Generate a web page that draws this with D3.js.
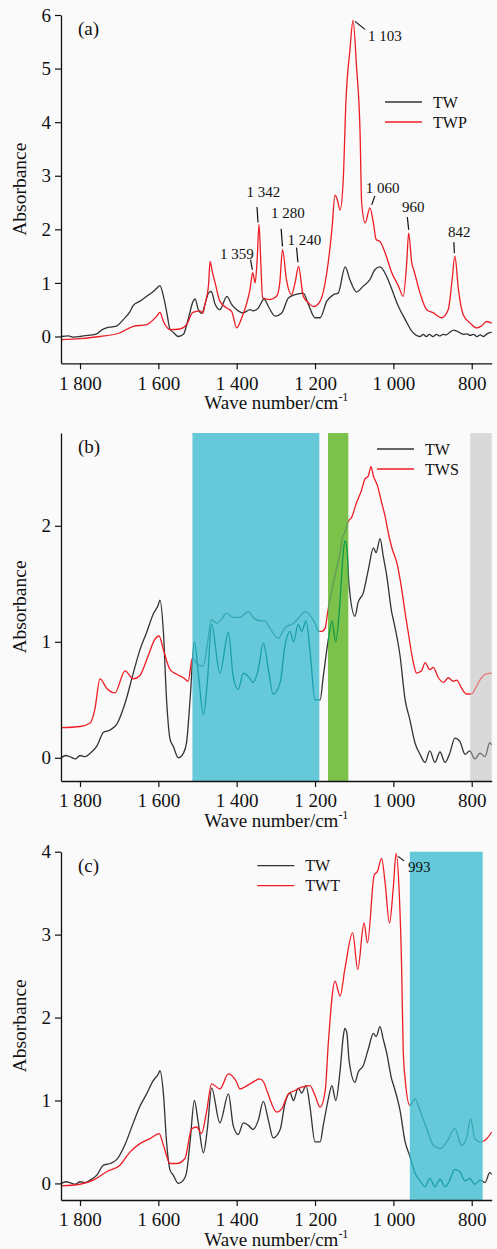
<!DOCTYPE html>
<html>
<head>
<meta charset="utf-8">
<script src="https://cdn.jsdelivr.net/npm/d3@7/dist/d3.min.js"></script>
<style>
body { margin: 0; background: #fafafa; }
</style>
</head>
<body>
<div id="chart"></div>
<script>
var svgWidth = 497;
var svgHeight = 1249;
var fontFamily = "'Liberation Serif'";

// wave number ticks
var xTicks = [1800, 1600, 1400, 1200, 1000, 800];

// (a) TW and TWP spectra : [wave number, absorbance]
var twA = [[1848,0.0],[1830,0.01],[1815,-0.01],[1800,0.0],[1780,0.02],[1757,0.05],[1745,0.12],[1732,0.16],[1718,0.18],[1706,0.2],
  [1689,0.32],[1672,0.47],[1664,0.58],[1647,0.66],[1630,0.75],[1613,0.84],[1604,0.9],[1596,0.95],[1587,0.75],[1579,0.47],
  [1570,0.13],[1562,0.08],[1549,0.0],[1536,0.04],[1524,0.32],[1511,0.66],[1506,0.7],[1498,0.5],[1489,0.43],[1481,0.6],
  [1472,0.81],[1465,0.84],[1455,0.6],[1443,0.5],[1425,0.75],[1413,0.6],[1400,0.5],[1383,0.44],[1366,0.5],[1358,0.48],
  [1345,0.53],[1330,0.7],[1319,0.56],[1302,0.38],[1285,0.44],[1268,0.72],[1251,0.78],[1230,0.81],[1217,0.6],[1200,0.35],
  [1187,0.35],[1170,0.66],[1153,0.78],[1141,0.81],[1123,1.3],[1111,1.06],[1094,0.83],[1077,0.94],[1060,1.06],[1047,1.25],
  [1034,1.3],[1017,1.12],[1004,0.88],[987,0.56],[970,0.32],[953,0.1],[932,0.0],[924,0.04],[916,0.0],[908,0.04],
  [899,0.0],[890,0.04],[882,0.01],[873,0.04],[865,0.03],[856,0.08],[846,0.12],[838,0.1],[830,0.07],[821,0.04],
  [812,0.05],[804,0.02],[795,0.04],[787,0.0],[778,0.03],[770,0.0],[761,0.05],[749,0.08]];
var twpA = [[1848,-0.06],[1800,-0.04],[1749,0.0],[1698,0.07],[1664,0.19],[1630,0.22],[1621,0.26],[1604,0.38],[1596,0.45],[1587,0.28],
  [1570,0.13],[1545,0.14],[1528,0.22],[1512,0.45],[1494,0.48],[1486,0.44],[1481,0.6],[1472,0.95],[1468,1.4],[1462,1.2],
  [1455,1.0],[1443,0.66],[1425,0.53],[1413,0.47],[1400,0.16],[1387,0.35],[1374,0.63],[1366,0.88],[1359,1.19],[1353,1.0],
  [1348,1.4],[1343,2.09],[1338,1.3],[1334,0.72],[1315,0.69],[1298,0.75],[1290,1.0],[1283,1.62],[1273,1.06],[1260,0.78],
  [1251,1.0],[1242,1.31],[1230,0.75],[1217,0.63],[1203,0.56],[1187,0.66],[1170,1.19],[1157,1.99],[1149,2.64],[1143,2.55],
  [1136,2.36],[1128,2.92],[1121,4.41],[1111,5.34],[1103,5.9],[1094,5.03],[1085,3.8],[1081,2.5],[1072,2.12],[1060,2.4],
  [1051,2.12],[1044,1.81],[1034,1.77],[1021,1.56],[1004,1.19],[987,0.94],[975,0.75],[966,1.37],[961,1.93],[953,1.37],
  [947,1.22],[932,0.81],[915,0.5],[898,0.44],[877,0.35],[860,0.5],[850,1.06],[843,1.5],[834,0.88],[822,0.41],
  [804,0.25],[787,0.16],[775,0.2],[762,0.28],[749,0.25]];

// (b) and (c) share the TW spectrum
var twBC = [[1848,0.0],[1836,0.02],[1826,0.01],[1812,-0.01],[1800,0.02],[1787,0.01],[1774,0.04],[1757,0.1],[1740,0.22],[1723,0.24],
  [1706,0.29],[1685,0.47],[1664,0.73],[1647,0.93],[1630,1.08],[1613,1.24],[1600,1.32],[1596,1.36],[1587,1.08],[1579,0.5],
  [1570,0.16],[1562,0.1],[1549,0.0],[1536,0.04],[1528,0.13],[1519,0.5],[1508,1.0],[1498,0.73],[1485,0.37],[1475,0.65],
  [1464,1.15],[1443,0.73],[1421,1.08],[1409,0.7],[1396,0.59],[1383,0.73],[1370,0.7],[1358,0.65],[1345,0.76],[1332,0.99],
  [1319,0.76],[1307,0.55],[1289,0.65],[1277,0.96],[1264,1.09],[1255,1.0],[1243,1.15],[1234,1.09],[1223,1.18],[1213,0.93],
  [1200,0.5],[1187,0.5],[1179,0.7],[1166,1.02],[1157,1.18],[1147,1.0],[1136,1.36],[1128,1.77],[1124,1.87],[1119,1.82],
  [1113,1.48],[1098,1.22],[1090,1.34],[1077,1.42],[1064,1.62],[1051,1.81],[1044,1.77],[1034,1.89],[1026,1.74],[1017,1.57],
  [1004,1.25],[1000,1.19],[983,0.88],[970,0.5],[958,0.33],[945,0.13],[932,0.03],[919,-0.04],[907,0.06],[894,-0.04],
  [881,0.05],[868,-0.04],[856,0.04],[843,0.17],[830,0.14],[817,0.03],[805,0.06],[792,-0.01],[779,0.04],[766,0.01],
  [754,0.13],[749,0.11]];
var twsB = [[1848,0.26],[1800,0.27],[1774,0.3],[1762,0.42],[1749,0.68],[1732,0.6],[1711,0.56],[1685,0.75],[1664,0.68],[1647,0.71],
  [1626,0.88],[1609,1.02],[1598,1.05],[1587,0.93],[1570,0.76],[1553,0.72],[1536,0.69],[1524,0.66],[1513,0.86],[1498,0.8],
  [1485,0.79],[1474,1.0],[1464,1.19],[1451,1.16],[1438,1.2],[1426,1.25],[1409,1.21],[1392,1.21],[1370,1.26],[1358,1.21],
  [1341,1.18],[1328,1.18],[1319,1.14],[1294,1.03],[1277,1.12],[1255,1.16],[1238,1.22],[1226,1.26],[1213,1.23],[1200,1.16],
  [1191,1.09],[1183,1.09],[1174,1.12],[1168,1.25],[1147,1.6],[1136,1.77],[1130,1.9],[1124,1.94],[1115,2.04],[1107,2.07],
  [1094,2.2],[1081,2.31],[1073,2.4],[1064,2.43],[1057,2.51],[1051,2.43],[1040,2.34],[1030,2.2],[1021,2.08],[1013,1.94],
  [1003,1.8],[991,1.68],[980,1.48],[970,1.25],[962,1.08],[949,0.82],[941,0.73],[928,0.75],[919,0.82],[907,0.76],
  [898,0.78],[885,0.69],[872,0.65],[860,0.69],[847,0.66],[838,0.67],[826,0.6],[813,0.55],[800,0.55],[792,0.59],
  [779,0.67],[766,0.72],[749,0.73]];
var twtC = [[1848,-0.03],[1800,-0.01],[1766,0.04],[1732,0.14],[1698,0.22],[1672,0.38],[1647,0.48],[1621,0.54],[1598,0.6],[1587,0.46],
  [1570,0.24],[1553,0.24],[1532,0.3],[1515,0.66],[1502,0.68],[1490,0.6],[1477,0.86],[1464,1.2],[1443,1.14],[1421,1.32],
  [1400,1.22],[1392,1.14],[1366,1.2],[1341,1.26],[1331,1.22],[1320,1.08],[1298,0.86],[1285,0.9],[1268,1.08],[1251,1.12],
  [1234,1.16],[1213,1.18],[1200,1.06],[1187,0.92],[1174,1.12],[1166,1.7],[1149,2.44],[1136,2.26],[1124,2.58],[1104,3.02],
  [1091,2.58],[1075,3.14],[1066,2.9],[1049,3.72],[1041,3.76],[1030,3.92],[1021,3.62],[1010,3.14],[1000,3.58],[993,3.98],
  [985,3.5],[979,2.62],[975,1.62],[970,1.26],[958,0.94],[945,1.02],[932,0.88],[915,0.66],[898,0.46],[881,0.42],
  [864,0.5],[843,0.66],[826,0.46],[813,0.55],[803,0.78],[792,0.54],[779,0.5],[766,0.52],[749,0.62]];

// highlighted wave number ranges
var bandsB = [[1513, 1189], [1167, 1115], [804, 749]];
var bandsC = [[958, 772]];

// peak labels
var peaksA = [
  {label: "1 103", wn: 1103, v: 5.9},
  {label: "1 342", wn: 1343, v: 2.09},
  {label: "1 280", wn: 1283, v: 1.62},
  {label: "1 240", wn: 1242, v: 1.31},
  {label: "1 359", wn: 1359, v: 1.19},
  {label: "1 060", wn: 1060, v: 2.4},
  {label: "960", wn: 961, v: 1.93},
  {label: "842", wn: 843, v: 1.5}
];
var peaksC = [{label: "993", wn: 993, v: 3.98}];

// label / leader offsets (px) relative to the peak
var peakOffsetsA = [
  {lead: [2, 1, 12, 9], text: [15, 21]},
  {lead: [-2, -17.5, -1, -2], text: [-12.4, -28]},
  {lead: [-1.4, -21, 0, -3.3], text: [-11.4, -32]},
  {lead: [-2, -18.7, -0.7, -4], text: [-11, -21]},
  {lead: [-2.2, -13, -0.4, -3], text: [-32.7, -14]},
  {lead: [5, -12, 1.8, -3], text: [-4.2, -15]},
  {lead: [-1.3, -16, 0, -3.4], text: [-6.7, -21]},
  {lead: [-1, -14, -0.5, -3], text: [-7, -19.5]}
];
var peakOffsetsC = [{lead: [2, 3, 8, 7.5], text: [12, 18.5]}];

var black = "#333333";
var red = "#ee1d25";

var panels = [
  {tag: "(a)", top: 15, bottom: 363.3, yDomain: [-0.5, 6], yTicks: [0, 1, 2, 3, 4, 5, 6],
   series: [{name: "TW", data: twA, color: black}, {name: "TWP", data: twpA, color: red}],
   bands: [], bandStyles: [], legend: [385, 102], peaks: peaksA, offsets: peakOffsetsA},
  {tag: "(b)", top: 433, bottom: 781, yDomain: [-0.2, 2.8], yTicks: [0, 1, 2],
   series: [{name: "TW", data: twBC, color: black}, {name: "TWS", data: twsB, color: red}],
   bands: bandsB,
   bandStyles: [{fill: "#66c9d9", ink: ["#1a9fab", "#34a9b4"]},
                {fill: "#7cc14a", ink: ["#0c9a4c", "#5e9b57"]},
                {fill: "#d9d9d9", ink: ["#6e6e6e", "#e47a7a"]}],
   legend: [377, 449], peaks: [], offsets: []},
  {tag: "(c)", top: 851.7, bottom: 1200, yDomain: [-0.2, 4], yTicks: [0, 1, 2, 3, 4],
   series: [{name: "TW", data: twBC, color: black}, {name: "TWT", data: twtC, color: red}],
   bands: bandsC,
   bandStyles: [{fill: "#66c9d9", ink: ["#1a9fab", "#34a9b4"]}],
   legend: [257.3, 865.7], peaks: peaksC, offsets: peakOffsetsC}
];

var plotLeft = 61;
var plotRight = 491.7;

var svg = d3.select("#chart")
  .append("svg")
  .attr("width", svgWidth)
  .attr("height", svgHeight);

var xScale = d3.scaleLinear()
  .domain([1848.5, 749])
  .range([plotLeft, plotRight]);

function fmt(d) {
  if (d >= 1000) return Math.floor(d / 1000) + " " + String(d % 1000).padStart(3, "0");
  return String(d);
}

// serif text helper
function label(sel, size) {
  return sel.style("font-family", fontFamily).style("font-size", size + "px").style("fill", "#111");
}

panels.forEach(function(p, pi) {
  var yScale = d3.scaleLinear().domain(p.yDomain).range([p.bottom, p.top]);
  var g = svg.append("g");

  var line = d3.line()
    .x(d => xScale(d[0]))
    .y(d => yScale(d[1]))
    .curve(d3.curveMonotoneX);

  // spectra
  p.series.forEach(function(s) {
    g.append("path")
      .datum(s.data)
      .attr("fill", "none")
      .attr("stroke", s.color)
      .attr("stroke-width", 1.3)
      .attr("d", line);
  });

  // shaded bands drawn over the lines, lines shown through in a tinted ink
  p.bands.forEach(function(b, bi) {
    var st = p.bandStyles[bi];
    var x0 = xScale(b[0]);
    var x1 = Math.min(xScale(b[1]), plotRight);
    g.append("rect")
      .attr("x", x0).attr("y", p.top)
      .attr("width", x1 - x0).attr("height", p.bottom - p.top)
      .attr("fill", st.fill);
    var clipId = "clip" + pi + "_" + bi;
    svg.append("clipPath").attr("id", clipId)
      .append("rect")
      .attr("x", x0).attr("y", p.top)
      .attr("width", x1 - x0).attr("height", p.bottom - p.top);
    p.series.forEach(function(s, si) {
      g.append("path")
        .datum(s.data)
        .attr("clip-path", "url(#" + clipId + ")")
        .attr("fill", "none")
        .attr("stroke", st.ink[si])
        .attr("stroke-width", 1.3)
        .attr("d", line);
    });
  });

  // axes
  var xAxis = g.append("g")
    .attr("transform", `translate(0,${p.bottom})`)
    .call(d3.axisBottom(xScale).tickValues(xTicks).tickFormat(fmt).tickSize(6).tickSizeOuter(0).tickPadding(7));
  var yAxis = g.append("g")
    .attr("transform", `translate(${plotLeft},0)`)
    .call(d3.axisLeft(yScale).tickValues(p.yTicks).tickFormat(d3.format("d")).tickSize(6).tickSizeOuter(0).tickPadding(4));
  [xAxis, yAxis].forEach(function(ax) {
    ax.select(".domain").attr("stroke", "#111").attr("stroke-width", 1.3);
    ax.selectAll(".tick line").attr("stroke", "#111").attr("stroke-width", 1.2);
    label(ax.selectAll(".tick text"), 19);
  });

  // axis titles
  var xt = label(g.append("text"), 19)
    .attr("x", (plotLeft + plotRight) / 2)
    .attr("y", p.bottom + 46)
    .attr("text-anchor", "middle")
    .text("Wave number/cm");
  label(xt.append("tspan"), 12).attr("dy", -8).text("-1");

  label(g.append("text"), 19.5)
    .attr("transform", `translate(26,${(p.top + p.bottom) / 2}) rotate(-90)`)
    .attr("text-anchor", "middle")
    .text("Absorbance");

  // panel tag
  label(g.append("text"), 19)
    .attr("x", 78)
    .attr("y", p.top + 20)
    .text(p.tag);

  // legend
  p.series.forEach(function(s, si) {
    var ly = p.legend[1] + si * 20;
    g.append("line")
      .attr("x1", p.legend[0]).attr("x2", p.legend[0] + 37)
      .attr("y1", ly).attr("y2", ly)
      .attr("stroke", s.color).attr("stroke-width", 1.3);
    label(g.append("text"), 16)
      .attr("x", p.legend[0] + 48)
      .attr("y", ly)
      .attr("dy", "0.35em")
      .text(s.name);
  });

  // peak labels
  p.peaks.forEach(function(pk, ki) {
    var o = p.offsets[ki];
    var px = xScale(pk.wn);
    var py = yScale(pk.v);
    g.append("line")
      .attr("x1", px + o.lead[0]).attr("y1", py + o.lead[1])
      .attr("x2", px + o.lead[2]).attr("y2", py + o.lead[3])
      .attr("stroke", "#111").attr("stroke-width", 1.2);
    label(g.append("text"), 15)
      .attr("x", px + o.text[0])
      .attr("y", py + o.text[1])
      .text(pk.label);
  });
});
</script>
</body>
</html>
